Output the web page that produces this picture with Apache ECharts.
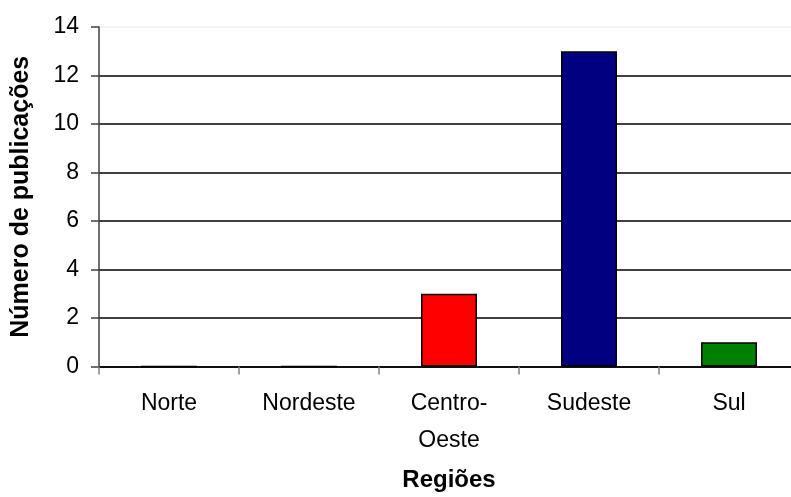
<!DOCTYPE html>
<html>
<head>
<meta charset="utf-8">
<script src="https://cdn.jsdelivr.net/npm/echarts@6/dist/echarts.min.js"></script>
<style>
html,body{margin:0;padding:0;background:#fff;}
#chart{width:791px;height:497px;}
</style>
</head>
<body>
<div id="chart"></div>
<script>
const categories = ['Norte', 'Nordeste', 'Centro-\nOeste', 'Sudeste', 'Sul'];
const values = [0, 0, 3, 13, 1];
const barColors = ['#FF0000', '#FF0000', '#FF0000', '#000080', '#008000'];
const yTicks = [0, 2, 4, 6, 8, 10, 12, 14];

const chart = echarts.init(document.getElementById('chart'), null, {renderer: 'canvas'});
const font = '"Liberation Sans", Arial, sans-serif';
chart.setOption({
  animation: false,
  backgroundColor: '#fff',
  grid: {left: 99, top: 27, width: 700, bottom: 130.5, containLabel: false, outerBoundsMode: 'none'},
  xAxis: {
    type: 'category',
    data: categories,
    name: 'Regiões',
    nameLocation: 'middle',
    nameGap: 102,
    nameTextStyle: {fontFamily: font, fontSize: 24, fontWeight: 'bold', color: '#000'},
    axisLine: {lineStyle: {color: '#000', width: 1.5}},
    axisTick: {show: true, length: 8, lineStyle: {color: '#808080', width: 1.5}},
    axisLabel: {fontFamily: font, fontSize: 23, color: '#000', margin: 19, lineHeight: 37, interval: 0}
  },
  yAxis: {
    type: 'value',
    min: 0, max: 14, interval: 2,
    name: 'Número de publicações',
    nameLocation: 'middle',
    nameGap: 65,
    nameTextStyle: {fontFamily: font, fontSize: 25, fontWeight: 'bold', color: '#000'},
    axisLine: {show: true, lineStyle: {color: '#404040', width: 1.5}},
    axisTick: {show: true, length: 8, lineStyle: {color: '#404040', width: 1.5}},
    axisLabel: {fontFamily: font, fontSize: 23, color: '#000', margin: 20,
      formatter: v => yTicks.includes(v) ? String(v) : ''},
    splitLine: {show: true, lineStyle: {color: ['#000','#000','#000','#000','#000','#000','#000','#eeeeee'], width: 1.5}}
  },
  series: [{
    type: 'bar',
    barWidth: 56,
    data: values.map((v, i) => ({value: v, itemStyle: {color: barColors[i], borderColor: '#000', borderWidth: 1.5}}))
  }]
});
</script>
</body>
</html>
